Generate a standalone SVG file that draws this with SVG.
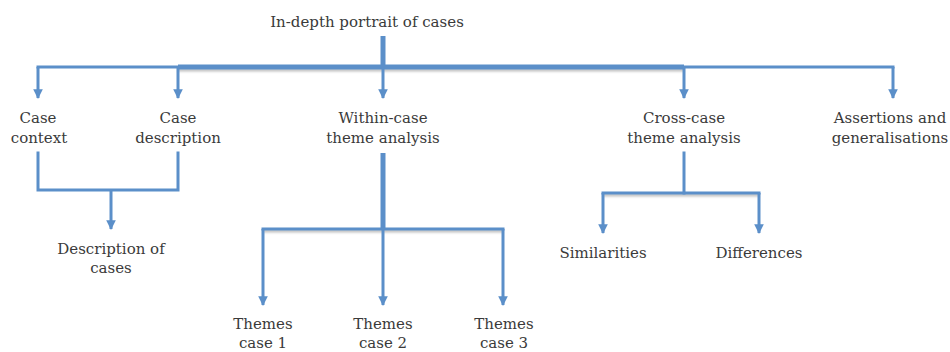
<svg xmlns="http://www.w3.org/2000/svg" width="950" height="352" viewBox="0 0 950 352">
  <style>
    .lbl { font-family: "DejaVu Serif", "Liberation Serif", serif; font-size: 15px; fill: #3a3a3a; text-anchor: middle; }
    .ln { stroke: #5b8fc9; stroke-width: 3; fill: none; stroke-linecap: square; }
    .thick { stroke: #5b8fc9; stroke-width: 5; fill: none; stroke-linecap: butt; }
    .shade { stroke: #000; stroke-opacity: 0.25; stroke-width: 3; fill: none; }
    .arr { stroke: #5b8fc9; stroke-width: 3; fill: none; marker-end: url(#head); }
  </style>
  <defs>
    <marker id="head" viewBox="0 0 10 10" refX="9" refY="5" markerWidth="3.2" markerHeight="3.2" orient="auto" markerUnits="strokeWidth">
      <path d="M0,0 L10,5 L0,10 z" fill="#5b8fc9"/>
    </marker>
    <filter id="soft" filterUnits="userSpaceOnUse" x="0" y="0" width="950" height="352">
      <feGaussianBlur stdDeviation="1"/>
    </filter>
  </defs>
  <rect width="950" height="352" fill="#ffffff"/>

  <g id="connectors">
    <!-- soft shadows under the horizontal bars -->
    <g filter="url(#soft)">
      <line class="shade" x1="178" y1="70" x2="684" y2="70"/>
      <line class="shade" x1="263" y1="231" x2="503" y2="231" stroke-opacity="0.12"/>
      <line class="shade" x1="603" y1="195" x2="759" y2="195" stroke-opacity="0.12"/>
    </g>
    <!-- root stem and main bus -->
    <line class="thick" x1="383" y1="36" x2="383" y2="67"/>
    <line class="ln" x1="38" y1="67" x2="893" y2="67"/>
    <line class="thick" x1="178" y1="67" x2="684" y2="67" stroke-width="4"/>
    <!-- drops to first row -->
    <line class="arr" x1="38" y1="67" x2="38" y2="98"/>
    <line class="arr" x1="178" y1="67" x2="178" y2="98"/>
    <line class="arr" x1="383" y1="67" x2="383" y2="98"/>
    <line class="arr" x1="684" y1="67" x2="684" y2="98"/>
    <line class="arr" x1="893" y1="67" x2="893" y2="98"/>
    <!-- context + description bracket -->
    <path class="ln" d="M38,153 V190 H178 V153"/>
    <line class="arr" x1="111" y1="190" x2="111" y2="229"/>
    <!-- within-case fan-out -->
    <line class="thick" x1="383" y1="153" x2="383" y2="229"/>
    <line class="ln" x1="263" y1="229" x2="503" y2="229"/>
    <line class="arr" x1="263" y1="229" x2="263" y2="305"/>
    <line class="arr" x1="383" y1="229" x2="383" y2="305"/>
    <line class="arr" x1="503" y1="229" x2="503" y2="305"/>
    <!-- cross-case fan-out -->
    <line class="ln" x1="684" y1="153" x2="684" y2="193"/>
    <line class="ln" x1="603" y1="193" x2="759" y2="193"/>
    <line class="arr" x1="603" y1="193" x2="603" y2="233"/>
    <line class="arr" x1="759" y1="193" x2="759" y2="233"/>
  </g>

  <g id="root"><text class="lbl" x="367" y="27">In-depth portrait of cases</text></g>
  <g id="case-context"><text class="lbl" x="38" y="123">Case</text><text class="lbl" x="39" y="143">context</text></g>
  <g id="case-description"><text class="lbl" x="178" y="123">Case</text><text class="lbl" x="178" y="143">description</text></g>
  <g id="within-case"><text class="lbl" x="383" y="123">Within-case</text><text class="lbl" x="383" y="143">theme analysis</text></g>
  <g id="cross-case"><text class="lbl" x="684" y="123">Cross-case</text><text class="lbl" x="684" y="143">theme analysis</text></g>
  <g id="assertions"><text class="lbl" x="890" y="123">Assertions and</text><text class="lbl" x="890" y="143">generalisations</text></g>
  <g id="description-of-cases"><text class="lbl" x="111" y="254">Description of</text><text class="lbl" x="111" y="273">cases</text></g>
  <g id="themes-1"><text class="lbl" x="263" y="329">Themes</text><text class="lbl" x="263" y="348">case 1</text></g>
  <g id="themes-2"><text class="lbl" x="383" y="329">Themes</text><text class="lbl" x="383" y="348">case 2</text></g>
  <g id="themes-3"><text class="lbl" x="504" y="329">Themes</text><text class="lbl" x="504" y="348">case 3</text></g>
  <g id="similarities"><text class="lbl" x="603" y="258">Similarities</text></g>
  <g id="differences"><text class="lbl" x="759" y="258">Differences</text></g>
</svg>
